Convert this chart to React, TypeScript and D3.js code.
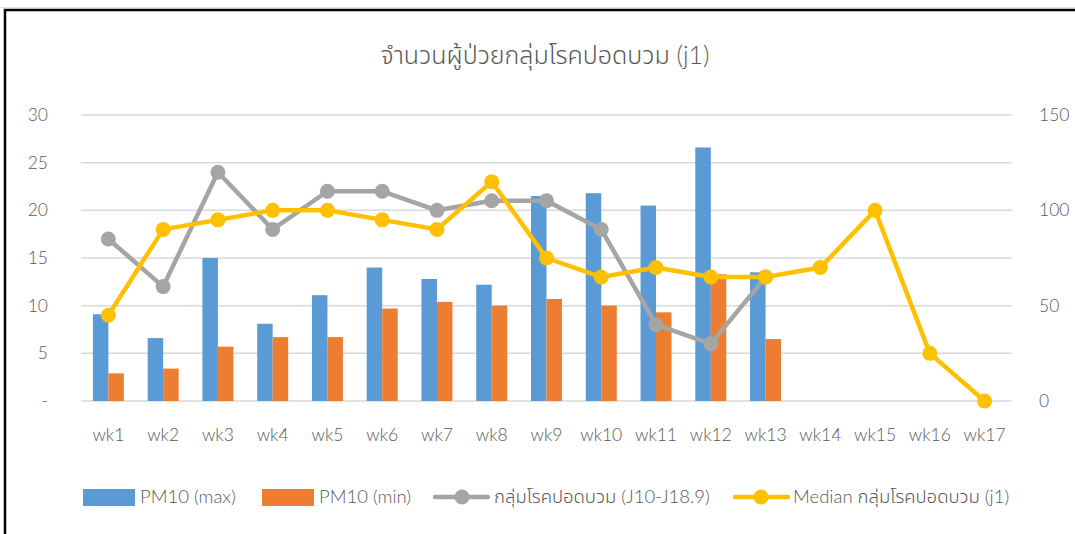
import React from "react";
import * as d3 from "d3";

const categories = ["wk1","wk2","wk3","wk4","wk5","wk6","wk7","wk8","wk9","wk10","wk11","wk12","wk13","wk14","wk15","wk16","wk17"];
const pm10Max: (number | null)[] = [9.1, 6.6, 15.0, 8.1, 11.1, 14.0, 12.8, 12.2, 21.5, 21.8, 20.5, 26.6, 13.5, null, null, null, null];
const pm10Min: (number | null)[] = [2.9, 3.4, 5.7, 6.7, 6.7, 9.7, 10.4, 10.0, 10.7, 10.0, 9.3, 13.3, 6.5, null, null, null, null];
const pneumonia: (number | null)[] = [85, 60, 120, 90, 110, 110, 100, 105, 105, 90, 40, 30, 65, null, null, null, null];
const median: (number | null)[] = [45, 90, 95, 100, 100, 95, 90, 115, 75, 65, 70, 65, 65, 70, 100, 25, 0];
const leftTicks = [0, 5, 10, 15, 20, 25, 30];
const rightTicks = [0, 50, 100, 150];

const title = "จำนวนผู้ป่วยกลุ่มโรคปอดบวม (j1)";
const legendLabels = ["PM10 (max)", "PM10 (min)", "กลุ่มโรคปอดบวม (J10-J18.9)", "Median กลุ่มโรคปอดบวม (j1)"];

const colors = { max: "#5b9bd5", min: "#ed7d31", gray: "#a5a5a5", yellow: "#ffc000", text: "#595959", grid: "#d9d9d9" };
const font = "Lato, 'Open Sans', 'Noto Sans Thai', 'Noto Sans', sans-serif";

export default function App() {
  const W = 1075, H = 534;
  const left = 81, right = 1012, top = 115, bottom = 401;
  const x = d3.scaleBand().domain(categories).range([left, right]).paddingInner(0).paddingOuter(0);
  const yL = d3.scaleLinear().domain([0, 30]).range([bottom, top]);
  const yR = d3.scaleLinear().domain([0, 150]).range([bottom, top]);
  const barW = 15.5;
  const cx = (c: string) => (x(c) as number) + x.bandwidth() / 2;

  const lineGen = (scale: d3.ScaleLinear<number, number>) =>
    d3.line<number | null>()
      .defined((d) => d !== null)
      .x((_, i) => cx(categories[i]))
      .y((d) => scale(d as number));

  const lineL = lineGen(yR);

  const legendY = 497;
  const fw = 300;

  return (
    <div style={{ position: "absolute", left: 0, top: 0 }}>
      <svg width={W} height={H} style={{ display: "block", background: "#fff" }}>
        <line x1={0} y1={7.5} x2={W} y2={7.5} stroke="#e0e0e0" strokeWidth={1} />
        <rect x={5} y={10} width={W + 10} height={H + 10} fill="none" stroke="#000" strokeWidth={2.5} />
        <text x={545} y={64} textAnchor="middle" fontFamily={font} fontWeight={fw} fontSize={25} fill={colors.text}>{title}</text>

        {leftTicks.map((t) => (
          <line key={"g" + t} x1={left} x2={right} y1={yL(t)} y2={yL(t)} stroke={colors.grid} strokeWidth={1.5} />
        ))}
        {leftTicks.map((t) => (
          <text key={"l" + t} x={48} y={yL(t) + 6} textAnchor="end" fontFamily={font} fontWeight={fw} fontSize={17.5} fill={colors.text}>
            {t === 0 ? "-" : t}
          </text>
        ))}
        {rightTicks.map((t) => (
          <text key={"r" + t} x={1039} y={yR(t) + 6} textAnchor="start" fontFamily={font} fontWeight={fw} fontSize={17.5} fill={colors.text}>
            {t}
          </text>
        ))}

        {categories.map((c, i) => (
          <g key={"b" + c}>
            {pm10Max[i] !== null && (
              <rect x={cx(c) - barW} y={yL(pm10Max[i] as number)} width={barW} height={bottom - yL(pm10Max[i] as number)} fill={colors.max} />
            )}
            {pm10Min[i] !== null && (
              <rect x={cx(c)} y={yL(pm10Min[i] as number)} width={barW} height={bottom - yL(pm10Min[i] as number)} fill={colors.min} />
            )}
          </g>
        ))}

        <path d={lineL(pneumonia) || ""} fill="none" stroke={colors.gray} strokeWidth={4.5} strokeLinejoin="round" />
        {pneumonia.map((v, i) => v !== null && (
          <circle key={"pc" + i} cx={cx(categories[i])} cy={yR(v)} r={7.5} fill={colors.gray} />
        ))}
        <path d={lineL(median) || ""} fill="none" stroke={colors.yellow} strokeWidth={4.5} strokeLinejoin="round" />
        {median.map((v, i) => v !== null && (
          <circle key={"mc" + i} cx={cx(categories[i])} cy={yR(v)} r={7.5} fill={colors.yellow} />
        ))}

        {categories.map((c) => (
          <text key={"x" + c} x={cx(c)} y={441} textAnchor="middle" fontFamily={font} fontWeight={fw} fontSize={17.5} fill={colors.text}>{c}</text>
        ))}

        <rect x={83} y={489} width={52} height={17} fill={colors.max} />
        <text x={140} y={legendY + 6} fontFamily={font} fontWeight={fw} fontSize={18.5} fill={colors.text}>{legendLabels[0]}</text>
        <rect x={262} y={489} width={52} height={17} fill={colors.min} />
        <text x={319} y={legendY + 6} fontFamily={font} fontWeight={fw} fontSize={18.5} fill={colors.text}>{legendLabels[1]}</text>
        <line x1={435} x2={488} y1={legendY} y2={legendY} stroke={colors.gray} strokeWidth={4.5} strokeLinecap="round" />
        <circle cx={462} cy={legendY} r={7.5} fill={colors.gray} />
        <text x={494} y={legendY + 6} fontFamily={font} fontWeight={fw} fontSize={18.5} fill={colors.text}>{legendLabels[2]}</text>
        <line x1={735} x2={788} y1={legendY} y2={legendY} stroke={colors.yellow} strokeWidth={4.5} strokeLinecap="round" />
        <circle cx={761} cy={legendY} r={7.5} fill={colors.yellow} />
        <text x={793} y={legendY + 6} fontFamily={font} fontWeight={fw} fontSize={18.5} fill={colors.text}>{legendLabels[3]}</text>
      </svg>
    </div>
  );
}
